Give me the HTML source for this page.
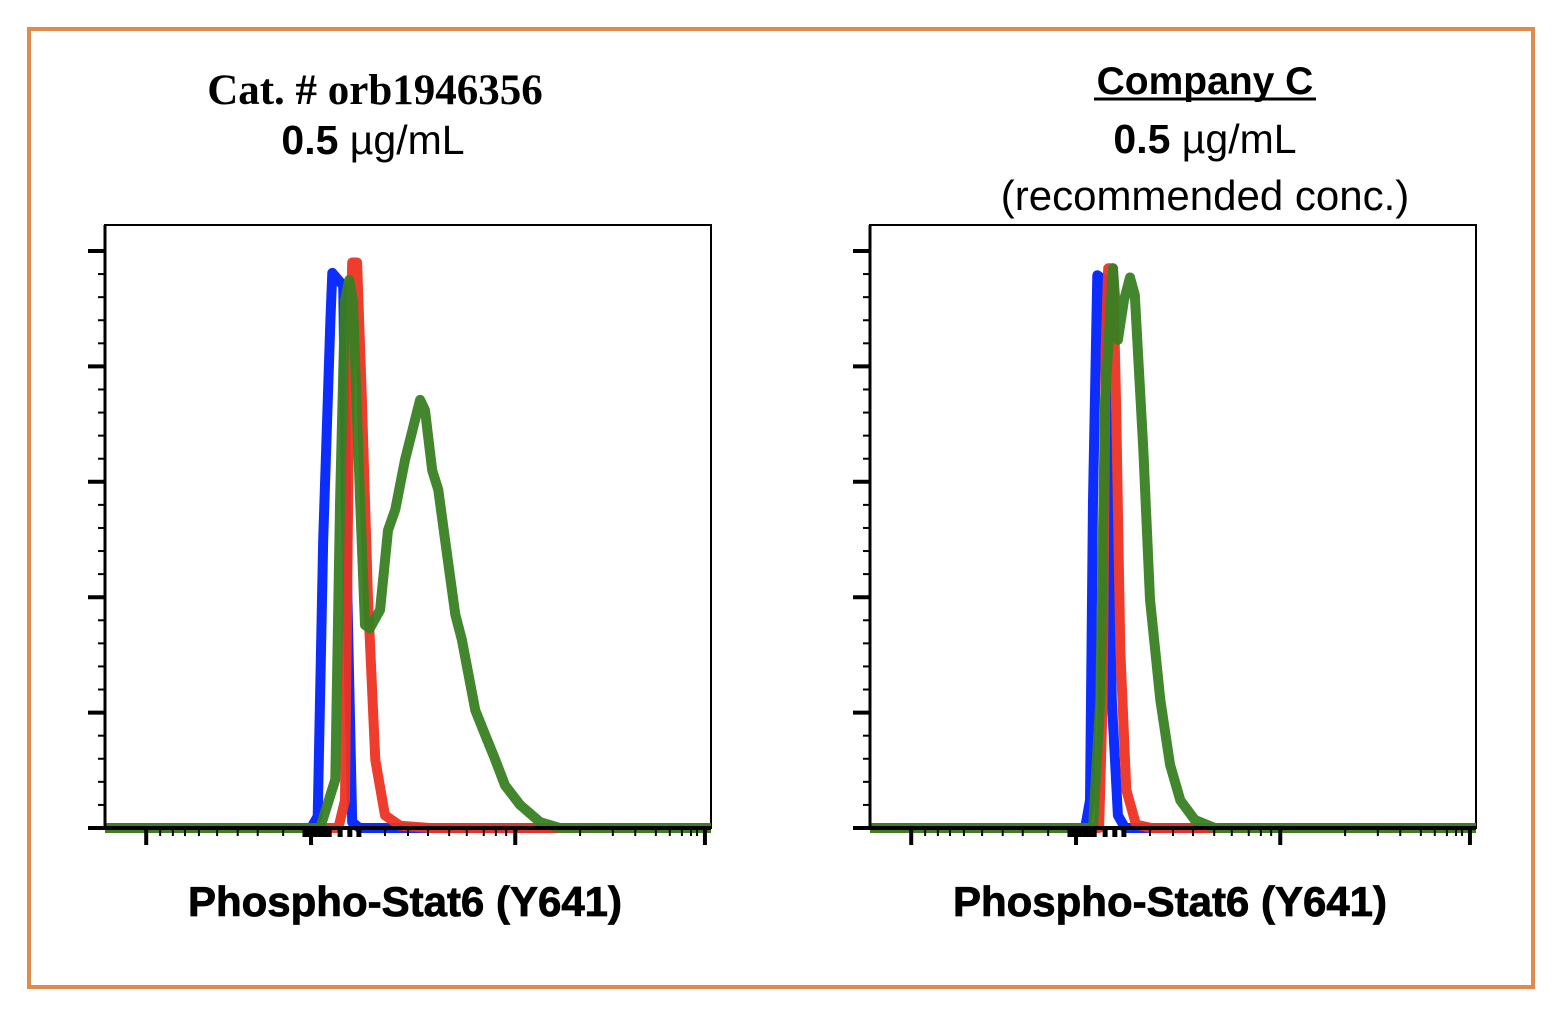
<!DOCTYPE html>
<html><head><meta charset="utf-8"><style>
html,body{margin:0;padding:0;background:#fff;}
svg{display:block;}
.t{font-family:"Liberation Sans",sans-serif;fill:#000;}
</style></head><body>
<svg id="fig" width="1558" height="1016" viewBox="0 0 1558 1016">
<rect x="29" y="29" width="1504" height="958" fill="#fff" stroke="#E08A4E" stroke-width="4"/>
<text x="375" y="104" text-anchor="middle" font-family="'Liberation Serif',serif" font-weight="bold" font-size="43">Cat. # orb1946356</text>
<text class="t" x="373" y="154" text-anchor="middle" font-size="41"><tspan font-weight="bold">0.5</tspan> µg/mL</text>
<text class="t" x="1205" y="94" text-anchor="middle" font-size="39" font-weight="bold">Company C</text>
<line x1="1094" y1="99" x2="1316" y2="99" stroke="#000" stroke-width="3"/>
<text class="t" x="1205" y="153" text-anchor="middle" font-size="41"><tspan font-weight="bold">0.5</tspan> µg/mL</text>
<text class="t" x="1205" y="210" text-anchor="middle" font-size="42">(recommended conc.)</text>
<text class="t" x="405" y="916" text-anchor="middle" font-size="42" font-weight="bold" stroke="#000" stroke-width="0.8">Phospho-Stat6 (Y641)</text>
<text class="t" x="1170" y="916" text-anchor="middle" font-size="42" font-weight="bold" stroke="#000" stroke-width="0.8">Phospho-Stat6 (Y641)</text>
<g id="plots"></g>
</svg>
<script>
// x in channel units 0..1000, y in counts 0..500
const xTicksMajor = [68, 340, 677, 990];
const xTicksMinor = [91,112,132,155,185,219,252,294,330,347,363,388,404,419,462,500,533,568,597,625,645,662,784,838,875,909,932,952,967,977];
const xTicksCluster = [330,337,347,355,363,370,388,404,419];
const yTicksMajor = [0,100,200,300,400,500];
const yTicksMinor = [20,40,60,80,120,140,160,180,220,240,260,280,320,340,360,380,420,440,460,480];
const leftBlueX = [0,340,351,360,372,375,393,400,408,420,1000];
const leftBlueY = [0,0,10,250,440,481,470,200,5,0,0];
const leftRedX = [0,385,396,403,408,416,424,434,446,462,487,536,1000];
const leftRedY = [0,0,24,371,490,490,371,198,59,11,2,0,0];
const leftGreenX = [0,355,380,388,396,403,409,421,429,437,454,467,479,495,520,528,540,550,561,578,589,611,627,644,660,685,718,751,1000];
const leftGreenY = [0,0,42,284,457,475,457,284,176,173,189,258,276,319,371,362,310,293,250,185,163,102,81,59,37,20,5,0,0];
const rightBlueX = [0,355,363,368,375,386,393,399,409,421,1000];
const rightBlueY = [0,0,24,284,479,475,284,111,11,0,0];
const rightRedX = [0,378,384,389,393,401,406,413,423,439,464,1000];
const rightRedY = [0,0,111,414,485,485,371,154,33,3,0,0];
const rightGreenX = [0,368,380,388,401,409,419,429,437,451,462,479,495,512,536,569,1000];
const rightGreenY = [0,0,111,371,485,423,457,477,462,328,198,111,55,24,7,0,0];

const NS='http://www.w3.org/2000/svg';
const root=document.getElementById('plots');
function mk(tag,attrs,parent){const e=document.createElementNS(NS,tag);for(const k in attrs)e.setAttribute(k,attrs[k]);parent.appendChild(e);return e;}

function drawPlot(left,name,series){
  const top=225,bottom=828,right=left+606;
  const sx=v=>left+v*606/1000;
  const sy=v=>bottom-v*577/500;
  const g=mk('g',{},root);
  
  
  const frame=mk('rect',{x:left,y:top,width:606,height:bottom-top,fill:'none',stroke:'#000','stroke-width':2},g);
  
  
  series.forEach(s=>{
    let d='';
    s.x.forEach((v,i)=>{d+=(i?'L':'M')+sx(v).toFixed(1)+' '+sy(s.y[i]).toFixed(1);});
    const p=mk('path',{d:d,fill:'none',stroke:s.c,'stroke-width':10,'stroke-linejoin':'round','stroke-opacity':0.95},g);
    
    
  });
  const ax=mk('g',{stroke:'#000'},g);
  
  
  mk('line',{x1:left,y1:top,x2:left,y2:bottom,'stroke-width':3},ax);
  mk('line',{x1:left,y1:bottom,x2:right,y2:bottom,'stroke-width':4},ax);
  yTicksMajor.forEach(v=>{const t=mk('line',{x1:left-17,y1:sy(v),x2:left,y2:sy(v),'stroke-width':4},ax);
    
    });
  yTicksMinor.forEach(v=>{const t=mk('line',{x1:left-7,y1:sy(v),x2:left,y2:sy(v),'stroke-width':2},ax);
    
    });
  xTicksMajor.forEach(v=>{const t=mk('line',{x1:sx(v),y1:bottom,x2:sx(v),y2:bottom+17,'stroke-width':4},ax);
    
    });
  xTicksMinor.forEach(v=>{const t=mk('line',{x1:sx(v),y1:bottom,x2:sx(v),y2:bottom+8,'stroke-width':2},ax);
    
    });
  xTicksCluster.forEach(v=>{const t=mk('line',{x1:sx(v),y1:bottom,x2:sx(v),y2:bottom+9,'stroke-width':5},ax);
    
    });
}
drawPlot(105,'left-histogram',[
  {x:leftBlueX,y:leftBlueY,c:'#0022ff',n:'left-blue-series'},
  {x:leftRedX,y:leftRedY,c:'#ee3322',n:'left-red-series'},
  {x:leftGreenX,y:leftGreenY,c:'#387f22',n:'left-green-series'}]);
drawPlot(870,'right-histogram',[
  {x:rightBlueX,y:rightBlueY,c:'#0022ff',n:'right-blue-series'},
  {x:rightRedX,y:rightRedY,c:'#ee3322',n:'right-red-series'},
  {x:rightGreenX,y:rightGreenY,c:'#387f22',n:'right-green-series'}]);
</script>
</body></html>
